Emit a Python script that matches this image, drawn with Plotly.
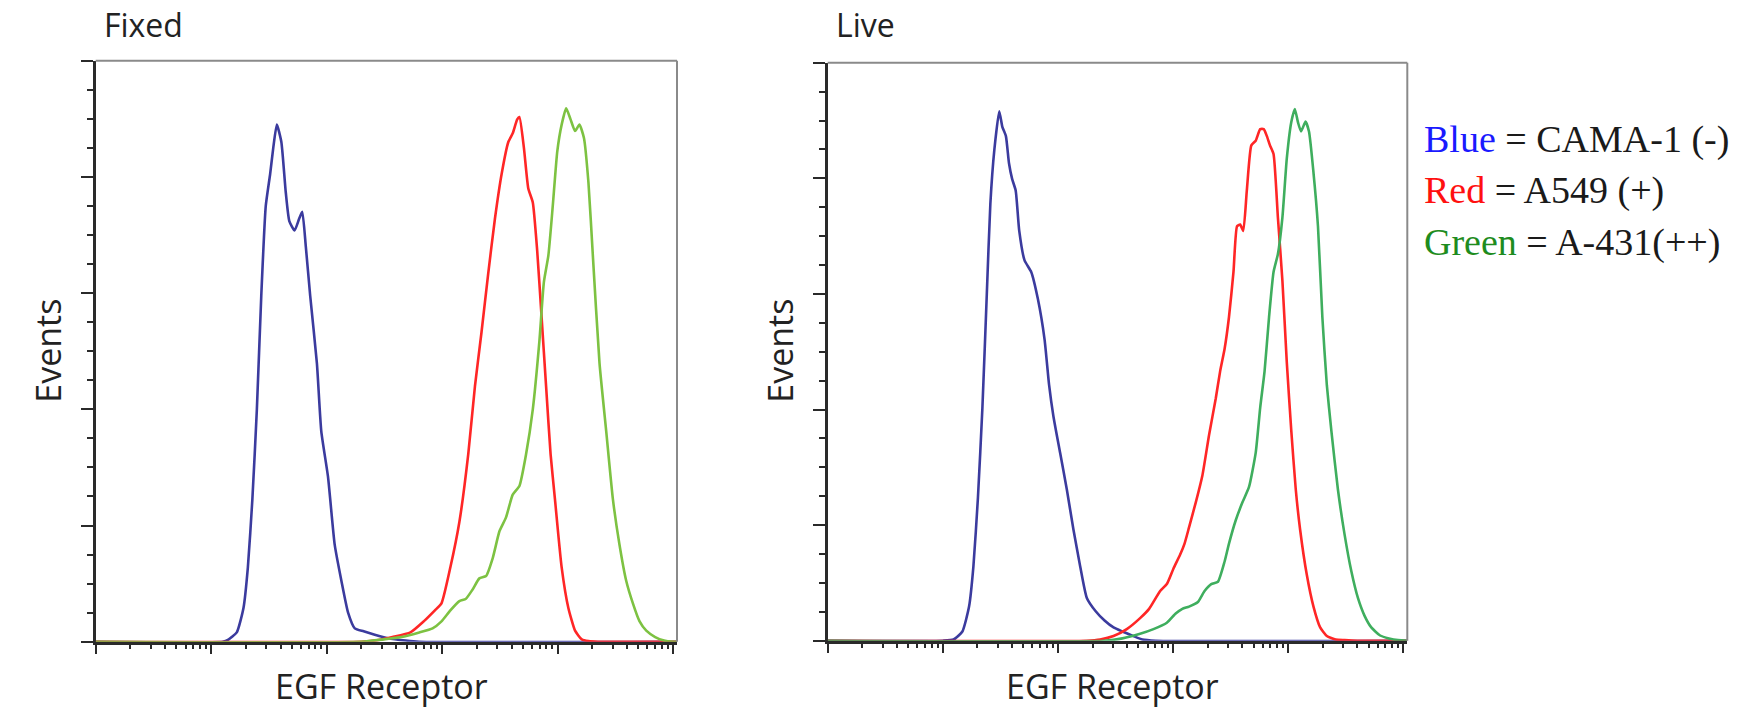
import plotly.graph_objects as go

# ---------------- data (x in decades, log10 of fluorescence; y = events, % of scale) -------------
fixed_blue_dec = [0, 1.10, 1.145, 1.222, 1.280, 1.318, 1.357, 1.396, 1.434, 1.473, 1.511, 1.538,
                  1.569, 1.608, 1.646, 1.677, 1.723, 1.762, 1.789, 1.820, 1.858, 1.916, 1.954,
                  2.012, 2.070, 2.128, 2.186, 2.244, 2.321, 2.417, 2.533, 2.687, 2.80, 5.035]
fixed_blue_ev = [0, 0, 0.3, 1.6, 5.8, 12.8, 24.5, 40, 59.5, 75, 80.5, 85,
                 89, 86, 77.4, 72.4, 70.8, 72.8, 74, 68, 59.5, 47.9, 36.2,
                 28.4, 16.7, 10.5, 5, 2.3, 1.8, 1.2, 0.6, 0.2, 0, 0]

fixed_red_dec = [0, 2.30, 2.45, 2.571, 2.726, 2.841, 2.938, 2.995, 3.072, 3.150, 3.227, 3.285,
                 3.342, 3.400, 3.458, 3.516, 3.574, 3.612, 3.651, 3.670, 3.709, 3.747, 3.786,
                 3.824, 3.863, 3.901, 3.940, 3.978, 4.036, 4.094, 4.152, 4.210, 4.268, 4.35, 5.035]
fixed_red_ev = [0, 0, 0.3, 0.8, 1.6, 3.5, 5.4, 6.6, 12.8, 20.6, 32.3, 44,
                53.3, 63.4, 72.8, 80.5, 86, 87.5, 89.9, 90.3, 85, 78, 75.6,
                67.3, 55.6, 44, 32.3, 24.5, 12.8, 5.8, 1.9, 0.4, 0.1, 0, 0]

fixed_green_dec = [0, 2.30, 2.494, 2.648, 2.803, 2.918, 2.995, 3.072, 3.150, 3.207, 3.265, 3.323,
                   3.381, 3.439, 3.497, 3.554, 3.612, 3.670, 3.728, 3.786, 3.843, 3.882, 3.921,
                   3.959, 3.998, 4.036, 4.075, 4.113, 4.152, 4.190, 4.229, 4.268, 4.306, 4.364,
                   4.422, 4.480, 4.537, 4.595, 4.653, 4.711, 4.769, 4.846, 4.923, 5.0, 5.035]
fixed_green_ev = [0, 0, 0.4, 0.8, 1.6, 2.3, 3.5, 5.4, 7, 7.4, 9, 10.9,
                  11.3, 14.4, 19, 21.4, 25.3, 26.8, 32.3, 40, 51.7, 61.9, 66.5,
                  75, 84.4, 89, 91.8, 89.9, 87.9, 89, 86.7, 79, 66.5, 47.9,
                  36.2, 24.5, 16.7, 10.5, 6.6, 3.5, 1.9, 0.8, 0.2, 0, 0]

live_blue_dec = [0, 1.00, 1.093, 1.170, 1.228, 1.266, 1.305, 1.344, 1.382, 1.413, 1.448, 1.490,
                 1.517, 1.548, 1.575, 1.602, 1.633, 1.664, 1.710, 1.768, 1.826, 1.884, 1.923,
                 1.961, 2.019, 2.077, 2.135, 2.193, 2.251, 2.328, 2.405, 2.483, 2.560, 2.656,
                 2.734, 2.85, 5.035]
live_blue_ev = [0, 0, 0.2, 1.6, 5.9, 12.9, 24.7, 40.3, 59.9, 75.6, 85, 91.6,
                88.9, 87.3, 82.6, 79.9, 77.9, 70.9, 65.8, 63.8, 59.1, 52.1, 44.3,
                38.8, 32.5, 26.2, 19.2, 12.9, 7.4, 5.1, 3.5, 2.3, 1.6, 0.8,
                0.2, 0, 0]

live_red_dec = [0, 2.25, 2.367, 2.483, 2.598, 2.714, 2.792, 2.888, 2.946, 3.004, 3.062, 3.100,
                3.139, 3.197, 3.255, 3.313, 3.371, 3.409, 3.448, 3.486, 3.525, 3.556, 3.583,
                3.610, 3.641, 3.680, 3.718, 3.757, 3.788, 3.815, 3.842, 3.873, 3.911, 3.950,
                3.988, 4.027, 4.066, 4.104, 4.162, 4.220, 4.278, 4.336, 4.413, 4.490, 4.60, 5.035]
live_red_ev = [0, 0, 0.2, 0.8, 2, 3.9, 5.5, 8.6, 9.8, 12.5, 14.9, 16.8,
               19.6, 23.9, 28.6, 35.6, 41.9, 46.6, 50.5, 56, 63.8, 71.7, 72,
               70.9, 77.9, 85.7, 86.5, 88.5, 88.5, 87.3, 85.7, 84.2, 73.2, 62.3,
               48.2, 36.4, 26.2, 19.2, 11.4, 5.9, 2.3, 0.8, 0.2, 0.1, 0, 0]

live_green_dec = [0, 2.40, 2.560, 2.714, 2.830, 2.946, 3.023, 3.081, 3.139, 3.216, 3.274, 3.332,
                  3.390, 3.448, 3.486, 3.544, 3.602, 3.660, 3.718, 3.757, 3.795, 3.834, 3.873,
                  3.911, 3.950, 3.988, 4.027, 4.058, 4.085, 4.112, 4.151, 4.181, 4.220, 4.259,
                  4.297, 4.336, 4.375, 4.432, 4.490, 4.548, 4.606, 4.664, 4.722, 4.799, 4.876,
                  4.954, 5.035]
live_green_ev = [0, 0, 0.4, 1.2, 2, 3.1, 4.7, 5.5, 5.9, 6.7, 8.6, 9.8,
                 10.2, 13.7, 16.8, 20.8, 23.9, 26.6, 32.5, 40.3, 46.6, 56, 63.8,
                 66.9, 73.2, 83.4, 89.7, 92, 89.7, 88.1, 89.8, 88.1, 81, 71.7,
                 56, 44.2, 36.4, 26.2, 18.4, 12.1, 7.4, 4.3, 2.3, 0.9, 0.4,
                 0.1, 0]

panel_titles = ["Fixed", "Live"]
x_title = "EGF Receptor"
y_title = "Events"
legend_lines = [("Blue", "CAMA-1 (-)", "#1a1aff"),
                ("Red", "A549 (+)", "#ff1010"),
                ("Green", "A-431(++)", "#1e8c1e")]

# ---------------- styling ----------------
W, H = 1741, 710
BLUE = "#3b3b9e"
RED = "#ff2626"
GREEN_FIXED = "#7dc242"
GREEN_LIVE = "#3fae5e"
AXIS = "#2a2a2a"
BORDER = "#8a8a8a"
SANS = "Open Sans"
SERIF = "Liberation Serif"

panels = [
    dict(series=[(fixed_blue_dec, fixed_blue_ev, BLUE),
                 (fixed_red_dec, fixed_red_ev, RED),
                 (fixed_green_dec, fixed_green_ev, GREEN_FIXED)],
         px=(95.7, 677.0), py=(60.7, 641.7)),
    dict(series=[(live_blue_dec, live_blue_ev, BLUE),
                 (live_red_dec, live_red_ev, RED),
                 (live_green_dec, live_green_ev, GREEN_LIVE)],
         px=(827.7, 1407.3), py=(62.7, 640.7)),
]

fig = go.Figure()
major_x = [10 ** d for d in range(0, 6)]
minor_x = [k * 10 ** d for d in range(0, 5) for k in range(2, 10)]

shapes = []
annotations = []
for i, p in enumerate(panels):
    n = "" if i == 0 else str(i + 1)
    for dec, ev, col in p["series"]:
        fig.add_trace(go.Scatter(
            x=[10 ** v for v in dec], y=ev, mode="lines",
            line=dict(color=col, width=2.6, shape="spline", smoothing=0.5),
            xaxis="x" + n, yaxis="y" + n,
            showlegend=False, hoverinfo="skip"))
    x0, x1 = p["px"]
    y0, y1 = p["py"]
    fig.update_layout(**{
        "xaxis" + n: dict(
            type="log", range=[0, 5.035], domain=[x0 / W, x1 / W],
            anchor="y" + n, showgrid=False, zeroline=False,
            showline=True, linecolor=AXIS, linewidth=2.5,
            tickmode="array", tickvals=major_x, ticks="outside", ticklen=10,
            tickwidth=2.2, tickcolor=AXIS, showticklabels=False,
            minor=dict(tickmode="array", tickvals=minor_x, ticks="outside",
                       ticklen=5, tickwidth=1.6, tickcolor=AXIS),
            layer="below traces", fixedrange=True),
        "yaxis" + n: dict(
            range=[0, 100], domain=[1 - y1 / H, 1 - y0 / H],
            anchor="x" + n, showgrid=False, zeroline=False,
            showline=True, linecolor=AXIS, linewidth=2.5,
            tickmode="linear", tick0=0, dtick=20, ticks="outside", ticklen=12,
            tickwidth=2.2, tickcolor=AXIS, showticklabels=False,
            minor=dict(dtick=5, ticks="outside", ticklen=6, tickwidth=1.6,
                       tickcolor=AXIS),
            layer="below traces", fixedrange=True),
    })
    xd = ("x" + n) + " domain"
    yd = ("y" + n) + " domain"
    shapes.append(dict(type="line", xref=xd, yref=yd, x0=0, x1=1, y0=1, y1=1,
                       line=dict(color=BORDER, width=2)))
    shapes.append(dict(type="line", xref=xd, yref=yd, x0=1, x1=1, y0=0, y1=1,
                       line=dict(color=BORDER, width=2)))
    # titles
    annotations.append(dict(text=panel_titles[i], xref="paper", yref="paper",
                            x=(x0 + 6) / W, y=1 - 24.5 / H, xanchor="left",
                            yanchor="middle", showarrow=False,
                            font=dict(family=SANS, size=32, color="#222")))
    annotations.append(dict(text=x_title, xref="paper", yref="paper",
                            x=((x0 + x1) / 2 - 5) / W, y=1 - 686 / H,
                            xanchor="center", yanchor="middle", showarrow=False,
                            font=dict(family=SANS, size=34, color="#222")))
    annotations.append(dict(text=y_title, xref="paper", yref="paper",
                            x=(x0 - 48) / W, y=1 - 351 / H, textangle=-90,
                            xanchor="center", yanchor="middle", showarrow=False,
                            font=dict(family=SANS, size=34, color="#222")))

for j, (word, label, col) in enumerate(legend_lines):
    annotations.append(dict(
        text=f"<span style='color:{col}'>{word}</span> = {label}",
        xref="paper", yref="paper", x=1422 / W, y=1 - (140 + 51 * j) / H,
        xanchor="left", yanchor="middle", showarrow=False, align="left",
        font=dict(family=SERIF, size=38, color="#1a1a1a")))

fig.update_layout(width=W, height=H, margin=dict(l=0, r=0, t=0, b=0),
                  paper_bgcolor="white", plot_bgcolor="white",
                  shapes=shapes, annotations=annotations, showlegend=False)

fig.write_html("out.html", config={"displayModeBar": False},
               post_script="document.body.style.margin='0px';"
                           "document.body.style.overflow='hidden';")
